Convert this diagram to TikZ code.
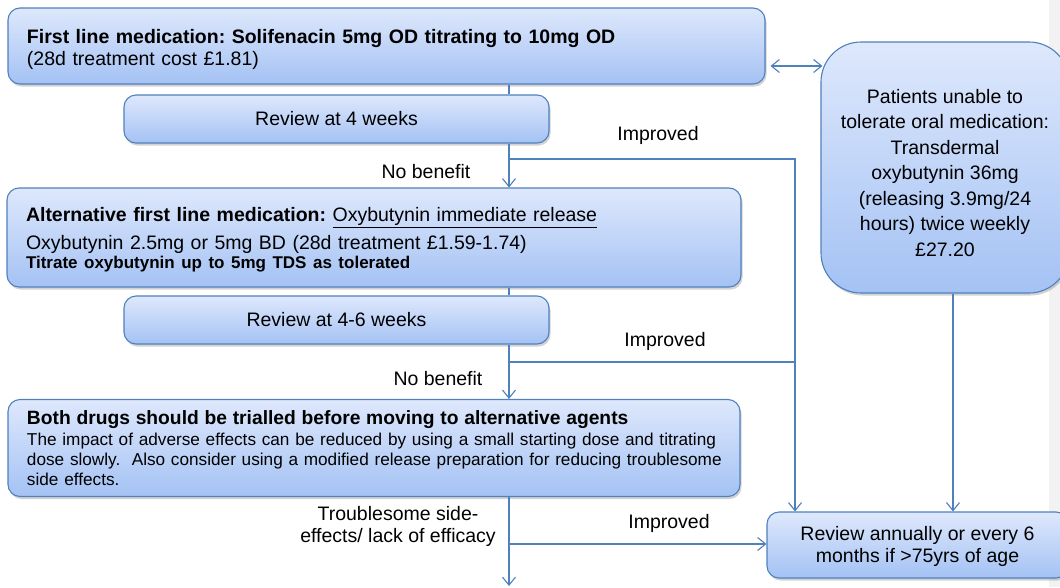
\documentclass[tikz,border=0pt]{standalone}
\usepackage{fontspec}
\setmainfont{Liberation Sans}
\frenchspacing
\definecolor{lineblue}{RGB}{79,129,189}
\definecolor{boxtop}{RGB}{222,232,252}
\definecolor{boxbottom}{RGB}{164,194,244}
\definecolor{stripgray}{RGB}{242,242,242}
\usetikzlibrary{arrows.meta, positioning, shadows, calc}

\begin{document}
\begin{tikzpicture}[x=1pt, y=-1pt, >={Straight Barb[length=8pt,width=13pt]},
    flowbox/.style={rectangle, draw=lineblue, line width=1.1pt, top color=boxtop, bottom color=boxbottom, rounded corners=12pt, inner sep=0pt, drop shadow={opacity=0.35, shadow xshift=1.5pt, shadow yshift=-2.5pt}},
    bigtext/.style={font=\fontsize{19.5}{22}\selectfont},
    flowlabel/.style={font=\fontsize{19.5}{22}\selectfont, align=center, inner sep=0pt},
    link/.style={draw=lineblue, line width=1.1pt}]
      \clip (0,0) rectangle (1060,587);
      \fill[white] (0,0) rectangle (1060,587);
      \fill[stripgray] (1049,0) rectangle (1060,587);

      \coordinate (spine) at (509,0);
      \coordinate (rail) at (795,0);
      \coordinate (drop) at (953,0);
      \coordinate (tie) at (0,66);
      \coordinate (fork1) at (509,159);
      \coordinate (fork2) at (509,362);
      \coordinate (fork3) at (509,544);
      \coordinate (exit) at (509,586);

      \node (first) [flowbox, bigtext, text width=719pt, inner xsep=19pt, minimum height=76pt, align=left] at (386.5,46) {\rule{0pt}{21pt}\textbf{First line medication: Solifenacin 5mg OD titrating to 10mg OD}\\(28d treatment cost £1.81)};
      \node (rev1) [flowbox, bigtext, minimum width=425pt, minimum height=48pt] at (336.5,119) {Review at 4 weeks};
      \node (alt) [flowbox, bigtext, text width=696pt, inner xsep=19pt, minimum height=99pt, align=left] at (374,237.5) {\rule{0pt}{19pt}\textbf{Alternative first line medication:} \underline{Oxybutynin immediate release}\\[6pt]Oxybutynin 2.5mg or 5mg BD (28d treatment £1.59-1.74)\\[-3pt]{\fontsize{17}{19}\selectfont\bfseries Titrate oxybutynin up to 5mg TDS as tolerated}};
      \node (rev2) [flowbox, bigtext, minimum width=425pt, minimum height=48pt] at (336.5,320) {Review at 4-6 weeks};
      \node (both) [flowbox, text width=694pt, inner xsep=19pt, minimum height=97pt, align=left, font=\fontsize{17.2}{20}\selectfont] at (374,448) {{\fontsize{19.25}{22}\selectfont\bfseries Both drugs should be trialled before moving to alternative agents}\\[1pt]\mbox{The impact of adverse effects can be reduced by using a small starting dose and titrating}\\\mbox{dose slowly.~ Also consider using a modified release preparation for reducing troublesome}\\side effects.};
      \node (patch) [flowbox, rounded corners=40pt, minimum width=248pt, minimum height=251pt, align=center, font=\fontsize{19.5}{25.5}\selectfont] at (945,167.5) {\rule{0pt}{25pt}Patients unable to\\tolerate oral medication:\\Transdermal\\oxybutynin 36mg\\(releasing 3.9mg/24\\hours) twice weekly\\£27.20};
      \node (annual) [flowbox, bigtext, minimum width=301pt, minimum height=66pt, align=center] at (917.5,545) {\rule{0pt}{17pt}Review annually or every 6\\months if >75yrs of age};

      \node (imp1) [flowlabel] at (658,135) {Improved};
      \node (nb1) [flowlabel] at (426,172) {No benefit};
      \node (imp2) [flowlabel] at (665,341) {Improved};
      \node (nb2) [flowlabel] at (438,379) {No benefit};
      \node (imp3) [flowlabel] at (669,523) {Improved};
      \node (trouble) [flowlabel] at (398,526) {Troublesome side-\\effects/ lack of efficacy};

      \draw[link] (first.south -| spine) -- (rev1.north -| spine);
      \draw[link, ->] (rev1.south -| spine) -- (alt.north -| spine);
      \draw[link, ->] (fork1) -| (annual.north -| rail);
      \draw[link] (alt.south -| spine) -- (rev2.north -| spine);
      \draw[link, ->] (rev2.south -| spine) -- (both.north -| spine);
      \draw[link] (fork2) -- (fork2 -| rail);
      \draw[link, ->] (both.south -| spine) -- (exit);
      \draw[link, ->] (fork3) -- (annual.west |- fork3);
      \draw[link, <->] ($(first.east |- tie)+(5,0)$) -- ($(patch.west |- tie)+(2,0)$);
      \draw[link, ->] (patch.south -| drop) -- (annual.north -| drop);
    \end{tikzpicture}
\end{document}
